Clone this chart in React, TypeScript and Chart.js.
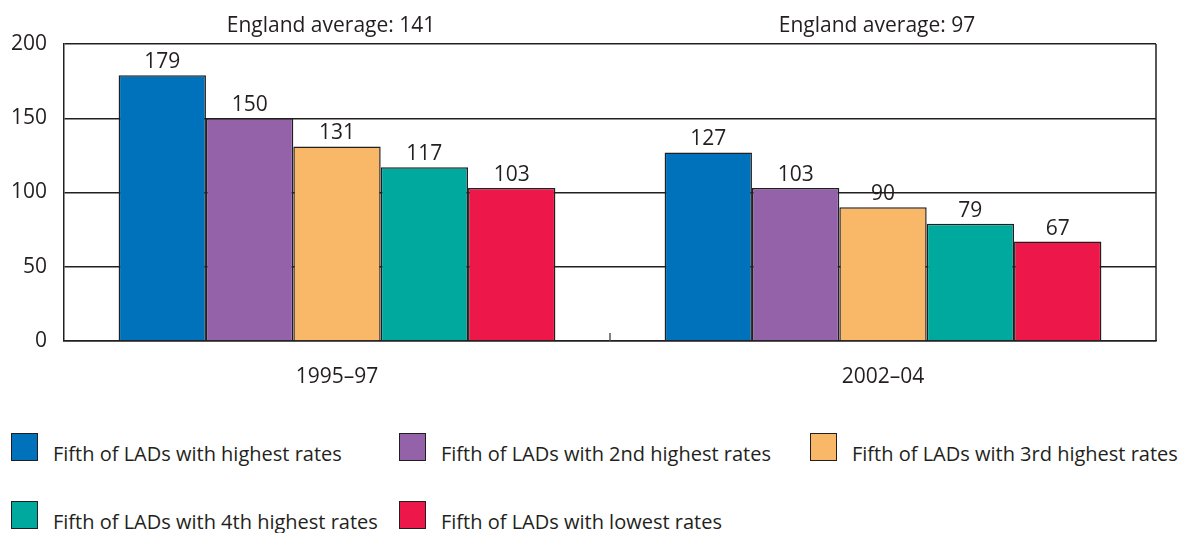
import React, { useEffect, useRef } from "react";
import { Chart, registerables } from "chart.js";

Chart.register(...registerables);

const categories = ["1995–97", "2002–04"];
const averageLabels = ["England average: 141", "England average: 97"];
const seriesLabels = [
  "Fifth of LADs with highest rates",
  "Fifth of LADs with 2nd highest rates",
  "Fifth of LADs with 3rd highest rates",
  "Fifth of LADs with 4th highest rates",
  "Fifth of LADs with lowest rates",
];
const highest = [179, 127];
const second = [150, 103];
const third = [131, 90];
const fourth = [117, 79];
const lowest = [103, 67];
const seriesValues = [highest, second, third, fourth, lowest];
const seriesColors = ["#0072BC", "#9362A8", "#F9B768", "#00A99D", "#ED1849"];
const yTicks = [0, 50, 100, 150, 200];

const FONT = "'Open Sans', 'DejaVu Sans', sans-serif";
const TEXT = "#231F20";
const LINE = "#231F20";

const legendCols = [11, 399, 810];
const legendRows = [433, 501];

const extrasPlugin = {
  id: "extras",
  afterDatasetsDraw(chart: any) {
    const { ctx, chartArea } = chart;
    const xs = chart.scales.x;
    ctx.save();
    ctx.font = `21px ${FONT}`;
    ctx.fillStyle = TEXT;
    ctx.textAlign = "center";
    ctx.textBaseline = "alphabetic";
    chart.data.datasets.forEach((ds: any, di: number) => {
      const meta = chart.getDatasetMeta(di);
      meta.data.forEach((bar: any, i: number) => {
        ctx.fillText(String(ds.data[i]), bar.x, bar.y - 7);
      });
    });
    averageLabels.forEach((t, i) => {
      ctx.fillText(t, xs.getPixelForValue(i) - 6, 32);
    });
    ctx.strokeStyle = LINE;
    ctx.lineWidth = 1.5;
    ctx.beginPath();
    ctx.moveTo(chartArea.right, chartArea.top);
    ctx.lineTo(chartArea.right, chartArea.bottom);
    ctx.stroke();
    ctx.strokeStyle = "#555";
    ctx.lineWidth = 1.5;
    const mid = (xs.getPixelForValue(0) + xs.getPixelForValue(1)) / 2;
    ctx.beginPath();
    ctx.moveTo(mid, chartArea.bottom);
    ctx.lineTo(mid, chartArea.bottom - 8);
    ctx.stroke();
    ctx.restore();
  },
};

export default function App() {
  const ref = useRef<HTMLCanvasElement | null>(null);
  useEffect(() => {
    document.body.style.margin = "0";
    if (!ref.current) return;
    const chart = new Chart(ref.current, {
      type: "bar",
      data: {
        labels: categories,
        datasets: seriesValues.map((vals, i) => ({
          label: seriesLabels[i],
          data: vals,
          backgroundColor: seriesColors[i],
          borderColor: LINE,
          borderWidth: 1.5,
          categoryPercentage: 0.8,
          barPercentage: 1.0,
        })),
      },
      options: {
        animation: false,
        responsive: false,
        maintainAspectRatio: false,
        layout: { padding: { top: 44, right: 27, left: 0, bottom: 0 } },
        plugins: { legend: { display: false }, tooltip: { enabled: false } },
        scales: {
          x: {
            grid: { display: false },
            border: { display: true, color: LINE, width: 1.5 },
            ticks: { color: TEXT, font: { family: FONT, size: 21 }, padding: 15 },
            afterFit: (s: any) => {
              s.height = 59;
            },
          },
          y: {
            min: 0,
            max: 200,
            afterBuildTicks: (s: any) => {
              s.ticks = yTicks.map((v) => ({ value: v }));
            },
            grid: { color: LINE, lineWidth: 1.5, drawTicks: false },
            border: { display: true, color: LINE, width: 1.5 },
            ticks: { color: TEXT, font: { family: FONT, size: 21 }, padding: 17 },
            afterFit: (s: any) => {
              s.width = 64;
            },
          },
        },
      },
      plugins: [extrasPlugin],
    });
    return () => chart.destroy();
  }, []);

  return (
    <div style={{ position: "relative", width: 1183, height: 533, background: "#fff", overflow: "hidden" }}>
      <canvas ref={ref} width={1183} height={400} style={{ position: "absolute", left: 0, top: 0 }} />
      {seriesLabels.map((label, i) => {
        const x = legendCols[i % 3];
        const y = legendRows[Math.floor(i / 3)];
        return (
          <div key={label}>
            <div
              style={{
                position: "absolute",
                left: x,
                top: y,
                width: 25,
                height: 26,
                background: seriesColors[i],
                border: `1.5px solid ${LINE}`,
              }}
            />
            <div
              style={{
                position: "absolute",
                left: x + 42,
                top: y + 8,
                fontFamily: FONT,
                fontSize: 20,
                lineHeight: "26px",
                color: TEXT,
                whiteSpace: "nowrap",
              }}
            >
              {label}
            </div>
          </div>
        );
      })}
    </div>
  );
}
